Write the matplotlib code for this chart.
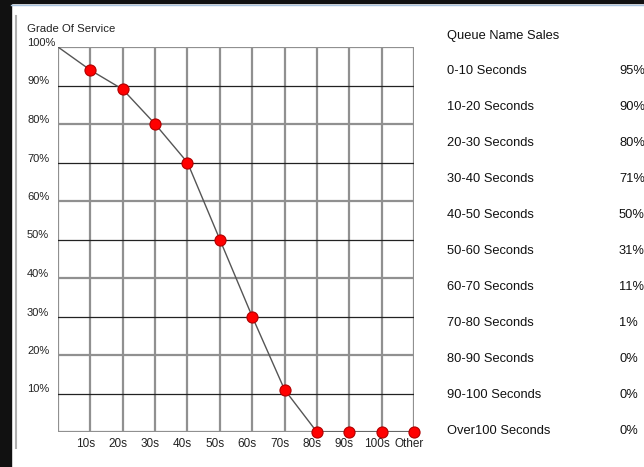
import matplotlib.pyplot as plt
import matplotlib.transforms as mtransforms
from matplotlib.patches import Rectangle

plt.rcParams['font.family'] = ['Liberation Sans', 'DejaVu Sans']

# chart data
buckets = ['10s', '20s', '30s', '40s', '50s', '60s', '70s', '80s', '90s', '100s', 'Other']
service = [94, 89, 80, 70, 50, 30, 11, 0, 0, 0, 0]
y_ticks = [10, 20, 30, 40, 50, 60, 70, 80, 90, 100]

# table on the right
queue_title = 'Queue Name Sales'
row_labels = ['0-10 Seconds', '10-20 Seconds', '20-30 Seconds', '30-40 Seconds',
              '40-50 Seconds', '50-60 Seconds', '60-70 Seconds', '70-80 Seconds',
              '80-90 Seconds', '90-100 Seconds', 'Over100 Seconds']
row_values = ['95%', '90%', '80%', '71%', '50%', '31%', '11%', '1%', '0%', '0%', '0%']

W, H = 644, 467
fig = plt.figure(figsize=(W / 100, H / 100), dpi=100)
fig.patch.set_facecolor('white')

# dark frame strips + panel edge
fig.add_artist(Rectangle((0, 0), 11 / W, 1, transform=fig.transFigure, color='#111111', zorder=0))
fig.add_artist(Rectangle((0, 1 - 3 / H), 1, 3 / H, transform=fig.transFigure, color='#111111', zorder=0))
fig.add_artist(plt.Line2D([11 / W, 1], [1 - 4.5 / H] * 2, transform=fig.transFigure,
                          color='#a9c4e0', lw=1))
fig.add_artist(plt.Line2D([15.5 / W] * 2, [1 - 16 / H, 1 - 448 / H], transform=fig.transFigure,
                          color='#b0b0b0', lw=1.5))

x0, x1, y0, y1 = 58, 414, 432, 47
ax = fig.add_axes([x0 / W, (H - y0) / H, (x1 - x0) / W, (y0 - y1) / H])
xs = list(range(1, len(buckets) + 1))
ax.set_xlim(0, len(buckets))
ax.set_ylim(0, 100)
for s in ax.spines.values():
    s.set_visible(False)
ax.set_xticks([])
ax.set_yticks([])

# grid
for x in range(0, len(buckets) + 1):
    ax.axvline(x, color='#909090', lw=1.6, zorder=1)
ax.axhline(0, color='#909090', lw=1.6, zorder=1)
for v in y_ticks:
    if v % 20 == 0:
        ax.axhline(v, color='#909090', lw=1.6, zorder=1)
    else:
        ax.axhline(v, color='#222222', lw=0.9, zorder=2)

# line from 100% at origin through the points
ax.plot([0] + xs, [100] + service, color='#555555', lw=1, zorder=3)
ax.plot(xs, service, 'o', color='#ff0000', mec='#b00000', mew=0.8, ms=8, zorder=4,
        clip_on=False)

# y tick labels, left aligned in the margin
ytr = mtransforms.blended_transform_factory(fig.transFigure, ax.transData)
ytr = mtransforms.offset_copy(ytr, fig=fig, x=0, y=1, units='dots')
for v in y_ticks:
    ax.text(27 / W, v, f'{v}%', transform=ytr, ha='left', va='baseline',
            fontsize=8, color='#222222')

# x tick labels
xtr = mtransforms.blended_transform_factory(ax.transData, fig.transFigure)
xtr = mtransforms.offset_copy(xtr, fig=fig, x=-5, y=0, units='dots')
for x, lab in zip(xs, buckets):
    ax.text(x, (H - 444) / H, lab, transform=xtr, ha='center', va='center',
            fontsize=8.5, color='#222222')

fig.text(27 / W, 1 - 29 / H, 'Grade Of Service', ha='left', va='center',
         fontsize=8.2, color='#222222')

# table
fig.text(447 / W, 1 - 35.5 / H, queue_title, ha='left', va='center', fontsize=9.3, color='#111111')
for i, (lab, val) in enumerate(zip(row_labels, row_values)):
    y = 71.5 + i * 35.9
    fig.text(447 / W, 1 - y / H, lab, ha='left', va='center', fontsize=9.3, color='#111111')
    fig.text(619 / W, 1 - y / H, val, ha='left', va='center', fontsize=9.3, color='#111111')

fig.savefig('out.png', dpi=100)
